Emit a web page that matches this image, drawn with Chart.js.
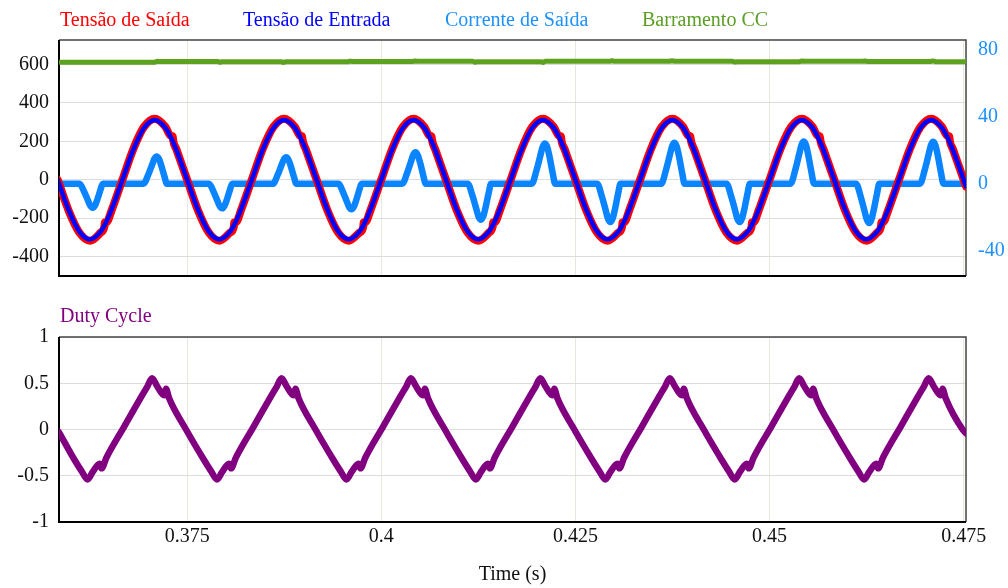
<!DOCTYPE html>
<html>
<head>
<meta charset="utf-8">
<title>Inversor - formas de onda</title>
<script src="https://cdn.jsdelivr.net/npm/chart.js@4.4.1/dist/chart.umd.min.js"></script>
<style>
  body { margin: 0; background: #fff; }
  #wrap { position: relative; width: 1008px; height: 588px; overflow: hidden;
          font-family: "Liberation Serif", "Times New Roman", serif; }
  #topChart { position: absolute; left: 0; top: 0; }
  #dutyChart { position: absolute; left: 0; top: 300px; }
  .lbl { position: absolute; font-size: 20px; line-height: 20px; white-space: nowrap; }
</style>
</head>
<body>
<div id="wrap">
  <canvas id="topChart" width="1008" height="300"></canvas>
  <canvas id="dutyChart" width="1008" height="288"></canvas>
  <span class="lbl" style="left:60px;top:9px;color:#ff0000">Tensão de Saída</span>
  <span class="lbl" style="left:243px;top:9px;color:#0000ff">Tensão de Entrada</span>
  <span class="lbl" style="left:445px;top:9px;color:#1e90ff">Corrente de Saída</span>
  <span class="lbl" style="left:642px;top:9px;color:#5a9e24">Barramento CC</span>
  <span class="lbl" style="left:60px;top:305px;color:#800080">Duty Cycle</span>
</div>
<script>
// axis ticks
const xTicks = [0.375, 0.4, 0.425, 0.45, 0.475];
const xTickLabels = ['0.375', '0.4', '0.425', '0.45', '0.475'];
const vTicks = [-400, -200, 0, 200, 400, 600];
const iTicks = [-40, 0, 40, 80];
const dTicks = [-1, -0.5, 0, 0.5, 1];

// time samples (s) shared by output and input voltage
const tVolt = [
  0.35833, 0.35972, 0.36111, 0.36250, 0.36389, 0.36435, 0.36440, 0.36463, 0.36528,
  0.36667, 0.36806, 0.36944, 0.37083, 0.37222, 0.37287, 0.37315, 0.37319, 0.37361, 0.37500, 0.37639, 0.37778, 0.37917, 0.38056, 0.38102, 0.38106, 0.38130, 0.38194,
  0.38333, 0.38472, 0.38611, 0.38750, 0.38889, 0.38954, 0.38981, 0.38986, 0.39028, 0.39167, 0.39306, 0.39444, 0.39583, 0.39722, 0.39769, 0.39773, 0.39796, 0.39861,
  0.40000, 0.40139, 0.40278, 0.40417, 0.40556, 0.40620, 0.40648, 0.40653, 0.40694, 0.40833, 0.40972, 0.41111, 0.41250, 0.41389, 0.41435, 0.41440, 0.41463, 0.41528,
  0.41667, 0.41806, 0.41944, 0.42083, 0.42222, 0.42287, 0.42315, 0.42319, 0.42361, 0.42500, 0.42639, 0.42778, 0.42917, 0.43056, 0.43102, 0.43106, 0.43130, 0.43194,
  0.43333, 0.43472, 0.43611, 0.43750, 0.43889, 0.43954, 0.43981, 0.43986, 0.44028, 0.44167, 0.44306, 0.44444, 0.44583, 0.44722, 0.44769, 0.44773, 0.44796, 0.44861,
  0.45000, 0.45139, 0.45278, 0.45417, 0.45556, 0.45620, 0.45648, 0.45653, 0.45694, 0.45833, 0.45972, 0.46111, 0.46250, 0.46389, 0.46435, 0.46440, 0.46463, 0.46528,
  0.46667, 0.46806, 0.46944, 0.47083, 0.47222, 0.47287, 0.47315, 0.47319, 0.47361, 0.47500, 0.47530
];
// Tensão de Saída (V)
const vOut = [
  0, -159, -275, -318, -275, -244, -222, -221, -159,
  0, 159, 275, 318, 275, 229, 226, 208, 159, 0, -159, -275, -318, -275, -244, -222, -221, -159,
  0, 159, 275, 318, 275, 229, 226, 208, 159, 0, -159, -275, -318, -275, -244, -222, -221, -159,
  0, 159, 275, 318, 275, 229, 226, 208, 159, 0, -159, -275, -318, -275, -244, -222, -221, -159,
  0, 159, 275, 318, 275, 229, 226, 208, 159, 0, -159, -275, -318, -275, -244, -222, -221, -159,
  0, 159, 275, 318, 275, 229, 226, 208, 159, 0, -159, -275, -318, -275, -244, -222, -221, -159,
  0, 159, 275, 318, 275, 229, 226, 208, 159, 0, -159, -275, -318, -275, -244, -222, -221, -159,
  0, 159, 275, 318, 275, 229, 226, 208, 159, 0, -36
];
// Tensão de Entrada (V)
const vIn = [
  0, -155.5, -269.3, -311, -269.3, -238.2, -234.7, -216, -155.5,
  0, 155.5, 269.3, 311, 269.3, 223.7, 199.9, 195.7, 155.5, 0, -155.5, -269.3, -311, -269.3, -238.2, -234.7, -216, -155.5,
  0, 155.5, 269.3, 311, 269.3, 223.7, 199.9, 195.7, 155.5, 0, -155.5, -269.3, -311, -269.3, -238.2, -234.7, -216, -155.5,
  0, 155.5, 269.3, 311, 269.3, 223.7, 199.9, 195.7, 155.5, 0, -155.5, -269.3, -311, -269.3, -238.2, -234.7, -216, -155.5,
  0, 155.5, 269.3, 311, 269.3, 223.7, 199.9, 195.7, 155.5, 0, -155.5, -269.3, -311, -269.3, -238.2, -234.7, -216, -155.5,
  0, 155.5, 269.3, 311, 269.3, 223.7, 199.9, 195.7, 155.5, 0, -155.5, -269.3, -311, -269.3, -238.2, -234.7, -216, -155.5,
  0, 155.5, 269.3, 311, 269.3, 223.7, 199.9, 195.7, 155.5, 0, -155.5, -269.3, -311, -269.3, -238.2, -234.7, -216, -155.5,
  0, 155.5, 269.3, 311, 269.3, 223.7, 199.9, 195.7, 155.5, 0, -35.2
];

// Corrente de Saída (A), right axis
const tCur = [
  0.3585,
  0.36114, 0.36174, 0.36224, 0.36254, 0.36284, 0.36314, 0.36344, 0.36384, 0.36414,
  0.36939, 0.36999, 0.37049, 0.37079, 0.37109, 0.37139, 0.37169, 0.37209, 0.37239,
  0.37781, 0.37841, 0.37891, 0.37921, 0.37951, 0.37981, 0.38011, 0.38051, 0.38081,
  0.38606, 0.38666, 0.38716, 0.38746, 0.38776, 0.38806, 0.38836, 0.38876, 0.38906,
  0.39447, 0.39507, 0.39557, 0.39587, 0.39617, 0.39647, 0.39677, 0.39717, 0.39747,
  0.40272, 0.40332, 0.40382, 0.40412, 0.40442, 0.40472, 0.40502, 0.40542, 0.40572,
  0.41114, 0.41174, 0.41224, 0.41254, 0.41284, 0.41314, 0.41344, 0.41384, 0.41414,
  0.41939, 0.41999, 0.42049, 0.42079, 0.42109, 0.42139, 0.42169, 0.42209, 0.42239,
  0.42781, 0.42841, 0.42891, 0.42921, 0.42951, 0.42981, 0.43011, 0.43051, 0.43081,
  0.43606, 0.43666, 0.43716, 0.43746, 0.43776, 0.43806, 0.43836, 0.43876, 0.43906,
  0.44447, 0.44507, 0.44557, 0.44587, 0.44617, 0.44647, 0.44677, 0.44717, 0.44747,
  0.45272, 0.45332, 0.45382, 0.45412, 0.45442, 0.45472, 0.45502, 0.45542, 0.45572,
  0.46114, 0.46174, 0.46224, 0.46254, 0.46284, 0.46314, 0.46344, 0.46384, 0.46414,
  0.46939, 0.46999, 0.47049, 0.47079, 0.47109, 0.47139, 0.47169, 0.47209, 0.47239,
  0.4753
];
const iOut = [
  0,
  0, -4.8, -10.1, -13.2, -14.4, -13, -9.4, -3.6, 0,
  0, 5.3, 11.3, 14.9, 16.2, 14.6, 10.5, 4.1, 0,
  0, -4.9, -10.3, -13.5, -14.7, -13.2, -9.6, -3.7, 0,
  0, 5.2, 11.1, 14.5, 15.8, 14.2, 10.3, 4, 0,
  0, -5, -10.7, -14.1, -15.3, -13.8, -9.9, -3.8, 0,
  0, 6.2, 13.1, 17.2, 18.7, 16.8, 12.2, 4.7, 0,
  0, -7.1, -15.1, -19.8, -21.5, -19.4, -14, -5.4, 0,
  0, 7.9, 16.8, 22.1, 24, 21.6, 15.6, 6, 0,
  0, -7.6, -16, -21.1, -22.9, -20.6, -14.9, -5.7, 0,
  0, 8.1, 17.1, 22.4, 24.4, 22, 15.9, 6.1, 0,
  0, -7.6, -16, -21.1, -22.9, -20.6, -14.9, -5.7, 0,
  0, 8.3, 17.6, 23.1, 25.1, 22.6, 16.3, 6.3, 0,
  0, -7.7, -16.4, -21.5, -23.4, -21.1, -15.2, -5.9, 0,
  0, 8.3, 17.5, 23, 25, 22.5, 16.3, 6.3, 0,
  0
];

// Barramento CC (V)
const tBus = [
  0.3585,
  0.37082, 0.37112, 0.37142,
  0.37893, 0.37923, 0.37953,
  0.38705, 0.38735, 0.38765,
  0.39568, 0.39598, 0.39628,
  0.40404, 0.40434, 0.40464,
  0.41177, 0.41207, 0.41237,
  0.42053, 0.42083, 0.42113,
  0.42941, 0.42971, 0.43001,
  0.43714, 0.43744, 0.43774,
  0.44525, 0.44555, 0.44585,
  0.45388, 0.45418, 0.45448,
  0.46200, 0.46230, 0.46260,
  0.47075, 0.47105, 0.47135,
  0.4753
];
const vBus = [
  612,
  612, 617, 616,
  616, 612, 615,
  615, 611, 614,
  614, 618, 616,
  616, 619, 617,
  617, 612, 615,
  615, 611, 617,
  617, 620, 617,
  617, 620, 617,
  617, 613, 615,
  615, 619, 617,
  617, 619, 616,
  616, 619, 615,
  615
];

// Duty Cycle
const tDuty = [
  0.3585, 0.36051, 0.36141, 0.36218, 0.36283, 0.36373, 0.36398, 0.36463, 0.36695, 0.36914, 0.36991,
  0.37048, 0.37112, 0.37203, 0.37228, 0.37267, 0.37486, 0.37718, 0.37808, 0.37885, 0.37950, 0.38040, 0.38065, 0.38130, 0.38362, 0.38581, 0.38658,
  0.38715, 0.38779, 0.38870, 0.38895, 0.38934, 0.39153, 0.39385, 0.39475, 0.39552, 0.39617, 0.39707, 0.39732, 0.39797, 0.40029, 0.40248, 0.40325,
  0.40381, 0.40445, 0.40536, 0.40561, 0.40600, 0.40819, 0.41051, 0.41141, 0.41218, 0.41283, 0.41373, 0.41398, 0.41463, 0.41695, 0.41914, 0.41991,
  0.42048, 0.42112, 0.42203, 0.42228, 0.42267, 0.42486, 0.42718, 0.42808, 0.42885, 0.42950, 0.43040, 0.43065, 0.43130, 0.43362, 0.43581, 0.43658,
  0.43715, 0.43779, 0.43870, 0.43895, 0.43934, 0.44153, 0.44385, 0.44475, 0.44552, 0.44617, 0.44707, 0.44732, 0.44797, 0.45029, 0.45248, 0.45325,
  0.45381, 0.45445, 0.45536, 0.45561, 0.45600, 0.45819, 0.46051, 0.46141, 0.46218, 0.46283, 0.46373, 0.46398, 0.46463, 0.46695, 0.46914, 0.46991,
  0.47048, 0.47112, 0.47203, 0.47228, 0.47267, 0.47486, 0.4753
];
const duty = [
  -0.03, -0.33, -0.45, -0.54, -0.46, -0.37, -0.42, -0.30, 0.04, 0.36, 0.47,
  0.555, 0.47, 0.37, 0.44, 0.34, 0.0, -0.33, -0.45, -0.54, -0.46, -0.37, -0.42, -0.30, 0.04, 0.36, 0.47,
  0.555, 0.47, 0.37, 0.44, 0.34, 0.0, -0.33, -0.45, -0.54, -0.46, -0.37, -0.42, -0.30, 0.04, 0.36, 0.47,
  0.555, 0.47, 0.37, 0.44, 0.34, 0.0, -0.33, -0.45, -0.54, -0.46, -0.37, -0.42, -0.30, 0.04, 0.36, 0.47,
  0.555, 0.47, 0.37, 0.44, 0.34, 0.0, -0.33, -0.45, -0.54, -0.46, -0.37, -0.42, -0.30, 0.04, 0.36, 0.47,
  0.555, 0.47, 0.37, 0.44, 0.34, 0.0, -0.33, -0.45, -0.54, -0.46, -0.37, -0.42, -0.30, 0.04, 0.36, 0.47,
  0.555, 0.47, 0.37, 0.44, 0.34, 0.0, -0.33, -0.45, -0.54, -0.46, -0.37, -0.42, -0.30, 0.04, 0.36, 0.47,
  0.555, 0.47, 0.37, 0.44, 0.34, 0.0, -0.04
];

const X_MIN = 0.3585, X_MAX = 0.4753;
const FONT = { family: '"Liberation Serif", "Times New Roman", serif', size: 20 };
const GRID_H = '#dcdcdc', GRID_V = '#e2e9dd';

function pts(xs, ys) {
  return xs.map((x, i) => ({ x: x, y: ys[i] }));
}

// frame around the plot area (dark top/right, black left/bottom)
const frame = {
  id: 'frame',
  beforeDatasetsDraw(chart) {
    const { ctx, chartArea: a } = chart;
    ctx.save();
    ctx.strokeStyle = '#444';
    ctx.lineWidth = 1.5;
    ctx.beginPath();
    ctx.moveTo(a.left, a.top); ctx.lineTo(a.right, a.top); ctx.lineTo(a.right, a.bottom);
    ctx.stroke();
    ctx.strokeStyle = '#000';
    ctx.lineWidth = 2;
    ctx.beginPath();
    ctx.moveTo(a.left, a.top); ctx.lineTo(a.left, a.bottom); ctx.lineTo(a.right, a.bottom);
    ctx.stroke();
    ctx.restore();
  }
};

function line(data, color, width, order, yAxisID, curved) {
  return {
    data: data, borderColor: color, borderWidth: width, order: order,
    yAxisID: yAxisID, pointRadius: 0, fill: false,
    cubicInterpolationMode: curved ? 'monotone' : 'default', tension: 0,
    borderJoinStyle: 'round', borderCapStyle: 'round'
  };
}

function xScale(showLabels, height) {
  return {
    type: 'linear', min: X_MIN, max: X_MAX,
    afterBuildTicks: s => { s.ticks = xTicks.map(v => ({ value: v })); },
    afterFit: s => { s.height = height; },
    grid: { color: GRID_V, lineWidth: 1, drawTicks: false },
    border: { display: false },
    ticks: {
      display: showLabels, padding: 3, color: '#111', font: FONT, maxRotation: 0,
      callback: (v, i) => xTickLabels[i]
    },
    title: { display: showLabels, text: 'Time (s)', color: '#111', font: FONT, padding: { top: 0, bottom: 1 } }
  };
}

Chart.defaults.font.family = FONT.family;

// upper panel: voltages, current and DC bus
new Chart(document.getElementById('topChart'), {
  type: 'line',
  data: {
    datasets: [
      line(pts(tVolt, vOut), '#ff0000', 8, 1, 'y', true),
      line(pts(tVolt, vIn), '#0000ff', 4.5, 0, 'y', true),
      line(pts(tCur, iOut), '#0a84ff', 6.5, 2, 'y1', true),
      line(pts(tBus, vBus), '#5ca21e', 5, 3, 'y', false)
    ]
  },
  options: {
    responsive: false, animation: false, events: [],
    layout: { padding: { top: 40, left: 0, right: 0, bottom: 0 } },
    plugins: { legend: { display: false }, tooltip: { enabled: false } },
    scales: {
      x: xScale(false, 19),
      y: {
        type: 'linear', position: 'left', min: -502, max: 728,
        afterBuildTicks: s => { s.ticks = vTicks.map(v => ({ value: v })); },
        afterFit: s => { s.width = 59; },
        grid: { color: GRID_H, lineWidth: 1, drawTicks: false },
        border: { display: false },
        ticks: { padding: 10, color: '#111', font: FONT, callback: v => String(v) }
      },
      y1: {
        type: 'linear', position: 'right', min: -55, max: 85.6,
        afterBuildTicks: s => { s.ticks = iTicks.map(v => ({ value: v })); },
        afterFit: s => { s.width = 42; },
        grid: { display: false, drawTicks: false },
        border: { display: false },
        ticks: { padding: 12, color: '#1e90ff', font: FONT, callback: v => String(v) }
      }
    }
  },
  plugins: [frame]
});

// lower panel: duty cycle
new Chart(document.getElementById('dutyChart'), {
  type: 'line',
  data: {
    datasets: [
      line(pts(tDuty, duty), '#800080', 6.5, 0, 'y', true)
    ]
  },
  options: {
    responsive: false, animation: false, events: [],
    layout: { padding: { top: 37, left: 0, right: 42, bottom: 0 } },
    plugins: { legend: { display: false }, tooltip: { enabled: false } },
    scales: {
      x: xScale(true, 66),
      y: {
        type: 'linear', position: 'left', min: -1, max: 1,
        afterBuildTicks: s => { s.ticks = dTicks.map(v => ({ value: v })); },
        afterFit: s => { s.width = 59; },
        grid: { color: GRID_H, lineWidth: 1, drawTicks: false },
        border: { display: false },
        ticks: { padding: 10, color: '#111', font: FONT, callback: v => String(v) }
      }
    }
  },
  plugins: [frame]
});
</script>
</body>
</html>
